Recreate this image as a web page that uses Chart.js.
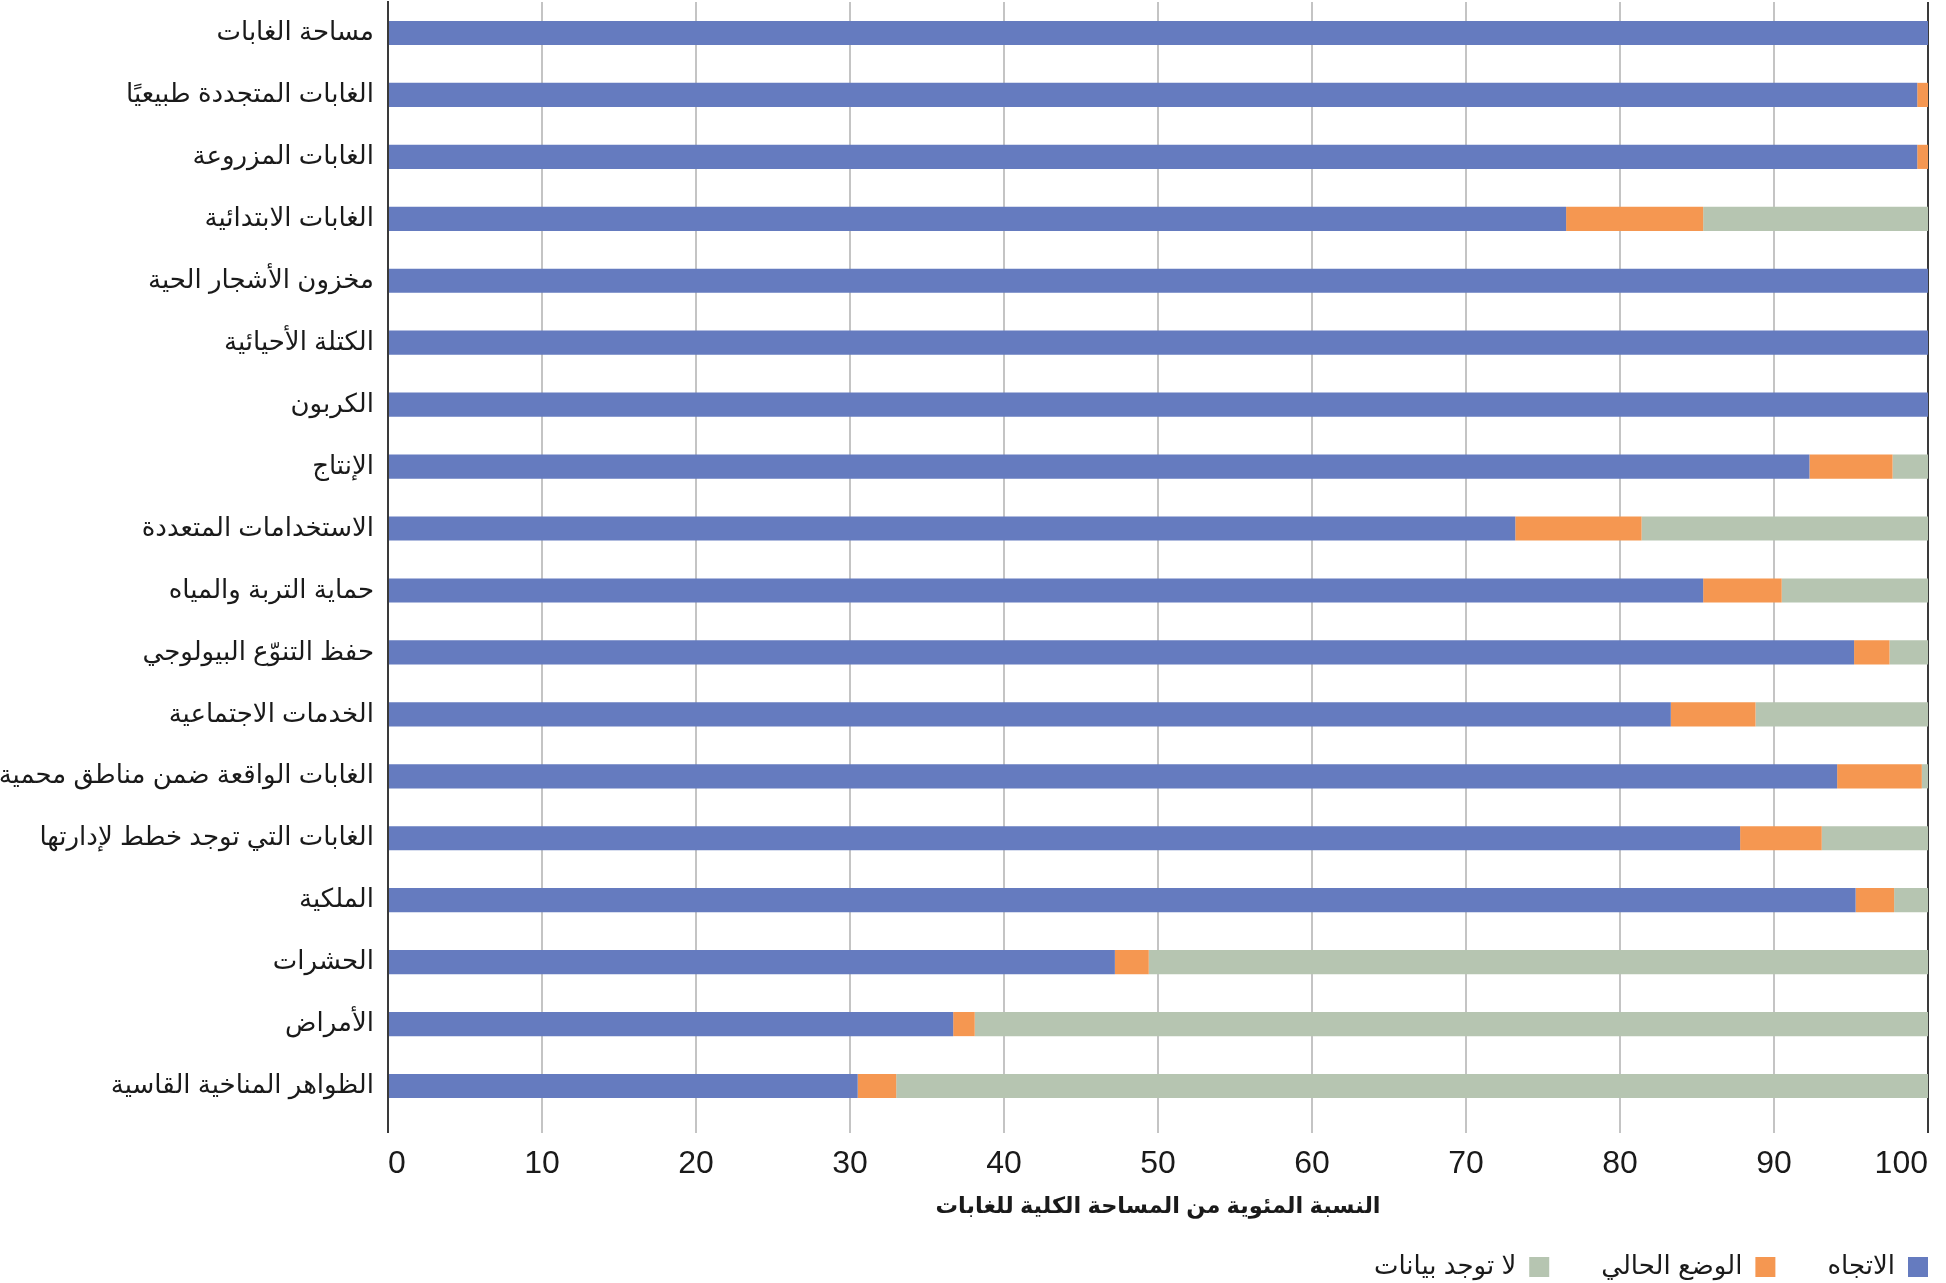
<!DOCTYPE html>
<html lang="ar">
<head>
<meta charset="utf-8">
<title>chart</title>
<script src="https://cdn.jsdelivr.net/npm/chart.js@4.4.1/dist/chart.umd.min.js"></script>
<style>
  html, body { margin: 0; padding: 0; background: #fff; }
  #wrap { width: 1946px; height: 1283px; }
</style>
</head>
<body>
<div id="wrap"><canvas id="bar-chart-stacked"></canvas></div>
<script>
const categories = [
  "مساحة الغابات",
  "الغابات المتجددة طبيعيًا",
  "الغابات المزروعة",
  "الغابات الابتدائية",
  "مخزون الأشجار الحية",
  "الكتلة الأحيائية",
  "الكربون",
  "الإنتاج",
  "الاستخدامات المتعددة",
  "حماية التربة والمياه",
  "حفظ التنوّع البيولوجي",
  "الخدمات الاجتماعية",
  "الغابات الواقعة ضمن مناطق محمية",
  "الغابات التي توجد خطط لإدارتها",
  "الملكية",
  "الحشرات",
  "الأمراض",
  "الظواهر المناخية القاسية"
];

const seriesNames = ["الاتجاه", "الوضع الحالي", "لا توجد بيانات"];

const trend   = [100, 99.3, 99.3, 76.5, 100, 100, 100, 92.3, 73.2, 85.4, 95.2, 83.3, 94.1, 87.8, 95.3, 47.2, 36.7, 30.5];
const status  = [0, 0.7, 0.7, 8.9, 0, 0, 0, 5.4, 8.2, 5.1, 2.3, 5.5, 5.5, 5.3, 2.5, 2.2, 1.4, 2.5];
const noData  = [0, 0, 0, 14.6, 0, 0, 0, 2.3, 18.6, 9.5, 2.5, 11.2, 0.4, 6.9, 2.2, 50.6, 61.9, 67.0];

const xTicks = [0, 10, 20, 30, 40, 50, 60, 70, 80, 90, 100];
const xTitle = "النسبة المئوية من المساحة الكلية للغابات";

const fontFamily = '"Liberation Sans", Arial, "DejaVu Sans", sans-serif';

// pushes the legend to the right edge (rtl legend keeps its padding on the right)
const legendShift = {
  id: 'legendShift',
  afterLayout(chart) {
    const l = chart.legend;
    l.left += 52; l.right += 52;
    l.top += 8; l.bottom += 8;
  }
};

new Chart(document.getElementById("bar-chart-stacked"), {
  type: 'bar',
  data: {
    labels: categories,
    datasets: [
      { label: seriesNames[0], backgroundColor: "#657bbf", data: trend },
      { label: seriesNames[1], backgroundColor: "#f59751", data: status },
      { label: seriesNames[2], backgroundColor: "#b6c5b1", data: noData }
    ]
  },
  plugins: [legendShift],
  options: {
    indexAxis: 'y',
    responsive: true,
    maintainAspectRatio: false,
    animation: false,
    devicePixelRatio: 1,
    datasets: {
      bar: { barPercentage: 0.39, categoryPercentage: 1, borderWidth: 0 }
    },
    layout: { padding: { top: 2, right: 18, bottom: 1, left: 0 } },
    scales: {
      x: {
        stacked: true,
        min: 0,
        max: 100,
        afterBuildTicks: function(scale) {
          scale.ticks = xTicks.map(v => ({ value: v }));
        },
        afterFit: function(scale) {
          scale.height = 77;
          scale.paddingLeft = 0;
          scale.paddingRight = 0;
        },
        grid: {
          color: ctx => (ctx.tick && (ctx.tick.value === 0 || ctx.tick.value === 100)) ? '#3a3a3a' : '#c4c4c4',
          lineWidth: 2,
          tickLength: 16
        },
        border: { display: false },
        ticks: {
          padding: 12,
          align: 'inner',
          color: '#1a1a1a',
          font: { family: fontFamily, size: 32 }
        },
        title: {
          display: true,
          text: xTitle,
          color: '#1a1a1a',
          padding: { top: 0, bottom: -26 },
          font: { family: fontFamily, size: 22.5, weight: 'bold' }
        }
      },
      y: {
        stacked: true,
        afterFit: function(scale) {
          scale.width = 388;
          scale.paddingTop = 0;
          scale.paddingBottom = 0;
        },
        grid: { display: false, drawTicks: false },
        border: { display: true, color: '#3a3a3a', width: 2 },
        ticks: {
          padding: 14,
          color: '#1a1a1a',
          font: { family: fontFamily, size: 26 }
        }
      }
    },
    plugins: {
      tooltip: { enabled: false },
      legend: {
        position: 'bottom',
        align: 'start',
        rtl: true,
        textDirection: 'rtl',
        labels: {
          boxWidth: 20,
          boxHeight: 20,
          padding: 52,
          color: '#1a1a1a',
          font: { family: fontFamily, size: 26 }
        }
      }
    }
  }
});
</script>
</body>
</html>
